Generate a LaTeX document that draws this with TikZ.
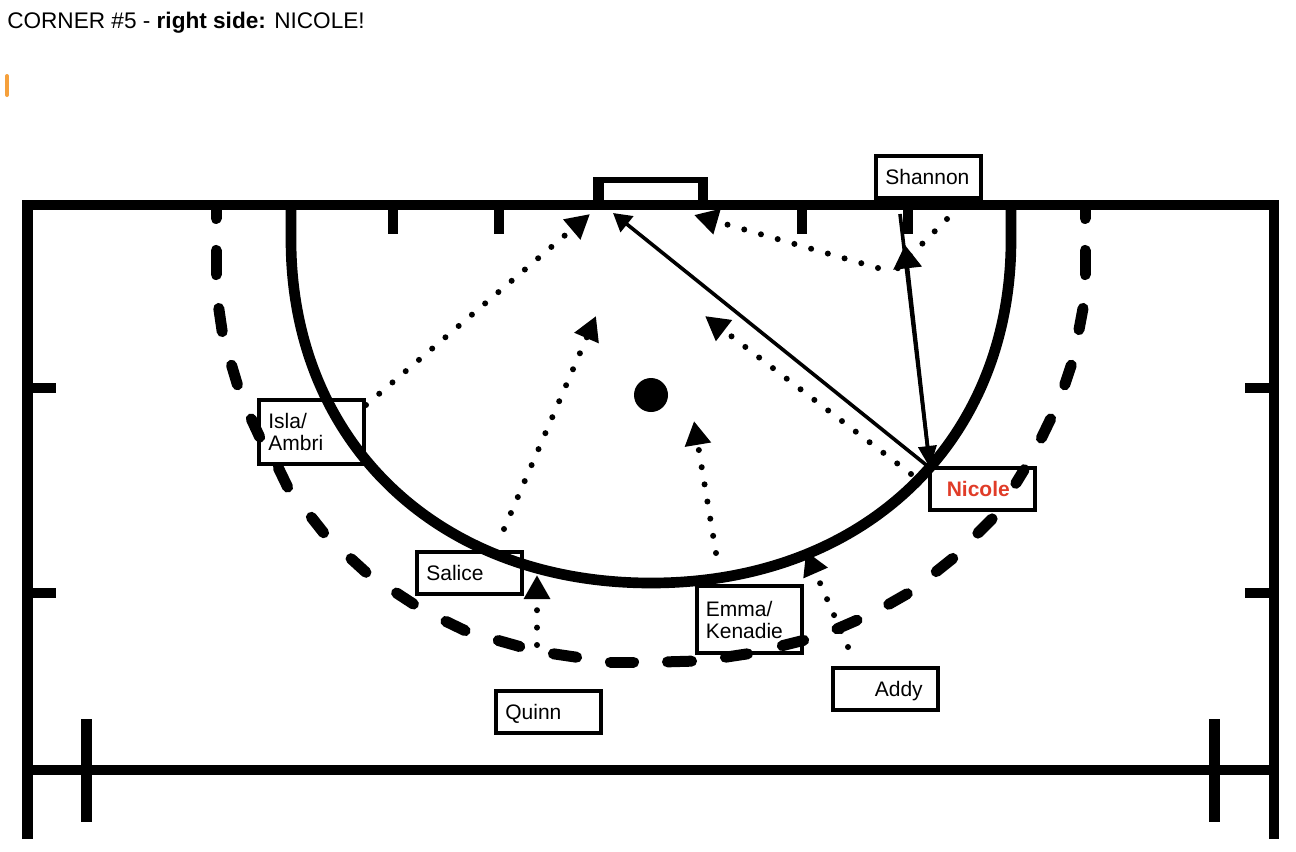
\documentclass[tikz,border=0pt]{standalone}
\usepackage{fontspec}
\setmainfont{Liberation Sans}
\usetikzlibrary{arrows.meta}
\definecolor{nicolered}{HTML}{E03C28}
\definecolor{markorange}{HTML}{F5A03C}
\tikzset{
  fieldline/.style={draw=black,line width=7.75pt,line cap=butt},
  crease/.style={draw=black,line width=8pt,line join=round},
  dashseg/.style={draw=black,line width=8.25pt,line cap=round,shorten <=4.1pt,shorten >=4.1pt},
  rosterbox/.style={draw=black,line width=3pt,inner ysep=0pt,inner xsep=7pt,outer sep=0pt,
    text width=64.75pt,minimum height=31.5pt,align=left,
    font=\fontsize{15.75pt}{16.5pt}\selectfont},
  run/.style={draw=black,line width=4.5pt,line cap=round,dash pattern=on 0pt off 13.05pt},
  runhead/.style={-{Triangle[length=18pt,width=18.75pt]}},
  pass/.style={draw=black,line width=2.7pt},
}
\newcommand{\nodepth}[1]{\raisebox{0pt}[\height][0pt]{#1}}
\begin{document}
\begin{tikzpicture}[x=0.75pt,y=-0.75pt]
\useasboundingbox (0,0) rectangle (1296,851);
% heading
\node[anchor=base west,inner sep=0pt,font=\fontsize{16.95pt}{20pt}\selectfont] (title) at (7,28.5)
  {CORNER \#5 - \textbf{right side:} NICOLE!};
\draw[draw=markorange,line width=3pt,line cap=round] (7,76) -- (7,95);
% field
\draw[fieldline,line join=miter,line width=8pt] (27.5,839) -- (27.5,205) -- (1274,205) -- (1274,839);
\draw[fieldline] (27.5,770) -- (1274,770);
\draw[fieldline] (86.5,719) -- (86.5,822);
\draw[fieldline] (1214.5,719) -- (1214.5,822);
\draw[fieldline] (27.5,388) -- (56,388);
\draw[fieldline] (27.5,593) -- (56,593);
\draw[fieldline] (1274,388) -- (1245,388);
\draw[fieldline] (1274,593) -- (1245,593);
\foreach \tx in {393,499,802,908} \draw[fieldline] (\tx,205) -- (\tx,233.5);
% goal
\draw[fieldline] (598.5,205) -- (598.5,177);
\draw[fieldline] (703,205) -- (703,177);
\draw[fieldline,line width=4.5pt] (593,180) -- (708,180);
% goal circle
\draw[crease] (291,205) -- (291,240) .. controls (291,440) and (436,583) .. (651,583)
  .. controls (866,583) and (1011,440) .. (1011,240) -- (1011,205);
% penalty spot
\fill[black] (651,395) circle[radius=12.75pt];
% broken circle
\draw[draw=black,line width=8.25pt] (216,205) -- (216,218);
\draw[draw=black,line width=8.25pt] (1085,205) -- (1085,218);
\foreach \ax/\ay/\bx/\by in {216/213/216/223,216/245/216/280,218/303/223/337,230/360/239/390,249/414/262/442,276/463/290/492,308/513/327/537,347/555/370/576,392/590/418/607,441/619/470/633,493/639/525/648,548/653/582/658,605/662/639/662,662/662/697/661,720/658/753/653,777/647/809/639,832/631/862/618,884/607/912/591,932/575/957/555,974/537/996/515,1013/488/1027/465,1039/443/1053/414,1063/390/1073/360,1078/335/1084/303,1085/280/1085/245,1085/213/1085/223}
  \draw[dashseg] (\ax,\ay) -- (\bx,\by);
% player boxes
\node[rosterbox] (shannon) at (928.5,177) {Shannon};
\node[rosterbox,minimum height=48pt] (isla) at (311.5,432) {Isla/\\Ambri};
\node[rosterbox] (nicole) at (982.5,489) {\hspace*{5.6pt}\textcolor{nicolered}{\textbf{Nicole}}};
\node[rosterbox] (salice) at (469.5,573) {Salice};
\node[rosterbox,minimum height=50.25pt] (emma) at (749,619.5) {Emma/\\Kenadie};
\node[rosterbox] (quinn) at (548.5,712) {\nodepth{Quinn}};
\node[rosterbox] (addy) at (885.5,689) {\hspace*{24.4pt}\nodepth{Addy}};
% free ends
\coordinate (islaS) at (366,405);
\coordinate (goalL) at (590,214);
\coordinate (saliceS) at (504,529);
\coordinate (saliceT) at (596,316);
\coordinate (emmaS) at (716,553);
\coordinate (emmaT) at (694,421);
\coordinate (nicoleS) at (911,474);
\coordinate (nicoleT) at (705,316);
\coordinate (quinnS) at (537,645);
\coordinate (quinnT) at (537,575);
\coordinate (addyS) at (848,647);
\coordinate (addyT) at (806,551);
\coordinate (shanS) at (947,219);
\coordinate (shanC) at (893,273);
\coordinate (shanR) at (878,268);
\coordinate (goalR) at (694,215);
\coordinate (goalM) at (613,213);
\coordinate (shanTop) at (900,214);
\coordinate (shanUp) at (905,245);
% runs
\draw[run,runhead] (islaS) -- (goalL);
\draw[run,runhead] (saliceS) -- (saliceT);
\draw[run,runhead] (emmaS) -- (emmaT);
\draw[run,runhead] (nicoleS) -- (nicoleT);
\draw[run,runhead] (quinnS) -- (quinnT);
\draw[run,runhead] (addyS) -- (addyT);
\draw[run] (shanS) -- (shanC);
\draw[run,runhead] (shanR) -- (goalR);
% passes
\draw[pass,-{Triangle[length=13.5pt,width=15pt]}] (nicole.north west) -- (goalM);
\draw[pass,-{Triangle[length=16.5pt,width=13.5pt]}] (shanTop) -- (nicole.north west);
\draw[pass,-{Triangle[length=17.5pt,width=21pt]}] (nicole.north west) -- (shanUp);
\end{tikzpicture}
\end{document}
